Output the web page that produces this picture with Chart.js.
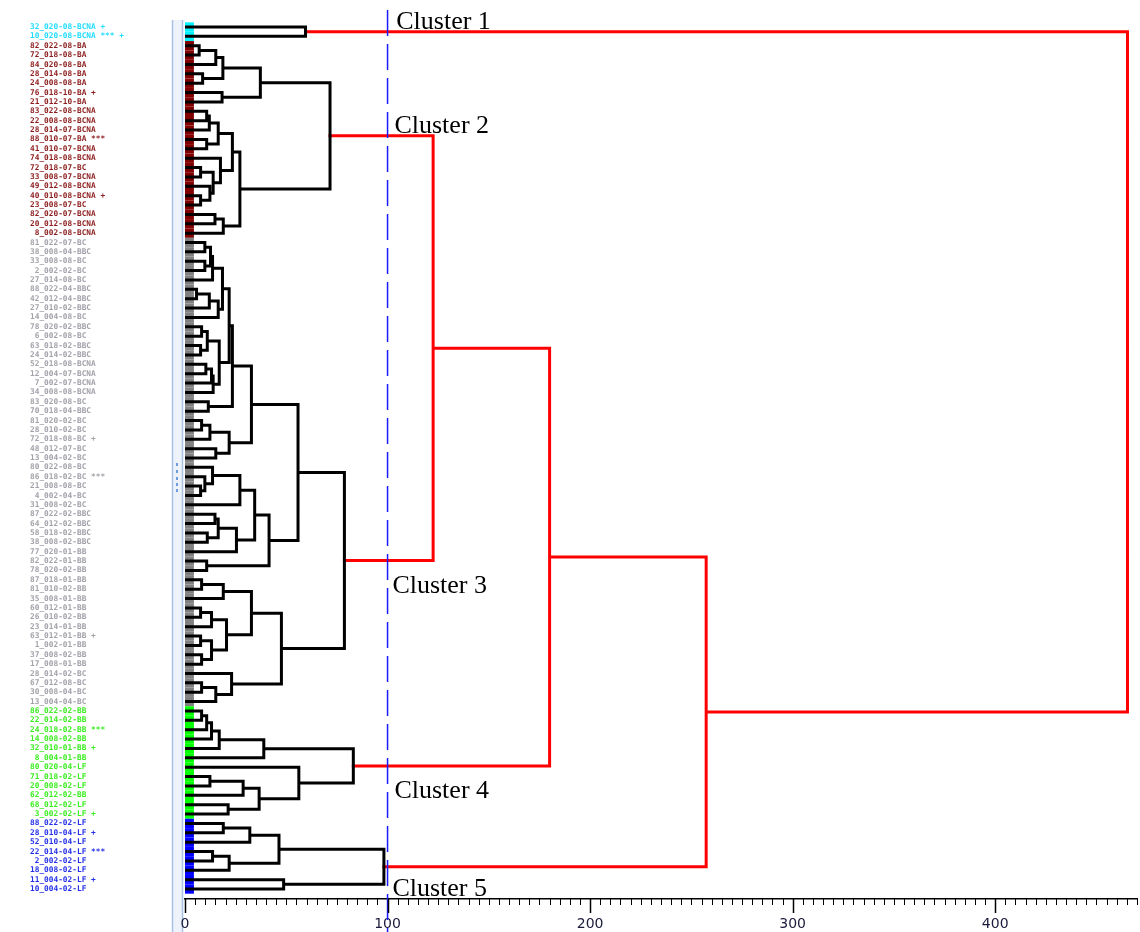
<!DOCTYPE html>
<html>
<head>
<meta charset="utf-8">
<title>Dendrogram</title>
<script src="https://cdn.jsdelivr.net/npm/chart.js@4.4.0/dist/chart.umd.min.js"></script>
<style>
  html, body { margin: 0; padding: 0; background: #fff; }
  canvas { display: block; }
</style>
</head>
<body>
<canvas id="dendro" width="1140" height="932"></canvas>
<script>
// leaf labels, top to bottom (single digit ids padded like the original listing)
var leafNames = [
  "32_020-08-BCNA +", "10_020-08-BCNA *** +",
  "82_022-08-BA", "72_018-08-BA", "84_020-08-BA", "28_014-08-BA", "24_008-08-BA",
  "76_018-10-BA +", "21_012-10-BA", "83_022-08-BCNA", "22_008-08-BCNA", "28_014-07-BCNA",
  "88_010-07-BA ***", "41_010-07-BCNA", "74_018-08-BCNA", "72_018-07-BC", "33_008-07-BCNA",
  "49_012-08-BCNA", "40_010-08-BCNA +", "23_008-07-BC", "82_020-07-BCNA", "20_012-08-BCNA",
  " 8_002-08-BCNA",
  "81_022-07-BC", "38_008-04-BBC", "33_008-08-BC", " 2_002-02-BC", "27_014-08-BC",
  "88_022-04-BBC", "42_012-04-BBC", "27_010-02-BBC", "14_004-08-BC", "78_020-02-BBC",
  " 6_002-08-BC", "63_018-02-BBC", "24_014-02-BBC", "52_018-08-BCNA", "12_004-07-BCNA",
  " 7_002-07-BCNA", "34_008-08-BCNA", "83_020-08-BC", "70_018-04-BBC", "81_020-02-BC",
  "28_010-02-BC", "72_018-08-BC +", "48_012-07-BC", "13_004-02-BC", "80_022-08-BC",
  "86_018-02-BC ***", "21_008-08-BC", " 4_002-04-BC", "31_008-02-BC", "87_022-02-BBC",
  "64_012-02-BBC", "58_018-02-BBC", "38_008-02-BBC", "77_020-01-BB", "82_022-01-BB",
  "78_020-02-BB", "87_018-01-BB", "81_010-02-BB", "35_008-01-BB", "60_012-01-BB",
  "26_010-02-BB", "23_014-01-BB", "63_012-01-BB +", " 1_002-01-BB", "37_008-02-BB",
  "17_008-01-BB", "28_014-02-BC", "67_012-08-BC", "30_008-04-BC", "13_004-04-BC",
  "86_022-02-BB", "22_014-02-BB", "24_018-02-BB ***", "14_008-02-BB", "32_010-01-BB +",
  " 8_004-01-BB", "80_020-04-LF", "71_018-02-LF", "20_008-02-LF", "62_012-02-BB",
  "68_012-02-LF", " 3_002-02-LF +",
  "88_022-02-LF", "28_010-04-LF +", "52_010-04-LF", "22_014-04-LF ***", " 2_002-02-LF",
  "18_008-02-LF", "11_004-02-LF +", "10_004-02-LF"
];

// how many consecutive leaves belong to each cluster
var clusterSizes = [2, 21, 50, 12, 8];
var stripColors = ["#00f2ff", "#800000", "#808080", "#00ff00", "#0000ff"];
var labelColors = ["#22dcff", "#8c1c1c", "#a2a2aa", "#3cee22", "#2430e8"];

// tree: leaf number, or [left, right, merge distance]
var cluster1 = [1, 2, 59.5];

var cluster2 = [
  [[[[3, 4, 7.0], 5, 15.2], [6, 7, 8.7], 18.7], [8, 9, 18.3], 37.2],
  [[[[[10, 11, 10.7], 12, 12.0], [13, 14, 10.7], 16.4],
    [15, [[16, 17, 7.7], [18, [19, 20, 7.7], 12.3], 13.9], 17.5], 23.4],
   [[21, 22, 14.8], 23, 18.9], 27.1],
  71.6
];

var cluster3 = [
  [[[[[[[[24, 25, 9.8], [26, 27, 9.8], 12.6], 28, 13.6],
       [[[29, 30, 5.7], 31, 12.0], 32, 16.4], 18.5],
      [[[33, 34, 8.2], [35, 36, 7.7], 11.0], [[[37, 38, 10.3], 39, 13.1], 40, 13.9], 16.9], 21.8],
     [41, 42, 11.5], 23.4],
    [[[43, 44, 8.2], 45, 12.3], [46, 47, 15.2], 21.8], 32.8],
   [[[[48, [49, [50, 51, 7.7], 9.8], 13.6], 52, 27.1],
     [[[53, 54, 14.8], [55, 56, 11.0], 16.4], 57, 25.4], 34.4],
    [58, 59, 10.7], 41.5], 55.8],
  [[[[60, 61, 8.2], 62, 18.9],
    [[[63, 64, 7.7], 65, 13.1], [[66, 67, 7.7], [68, 69, 8.2], 13.1], 20.5], 32.8],
   [70, [[71, 72, 8.2], 73, 15.2], 23.0], 47.6],
  78.7
];

var cluster4 = [
  [[[[[74, 75, 8.2], 76, 10.7], 77, 13.1], 78, 16.9], 79, 38.9],
  [80, [[[81, 82, 12.3], 83, 28.7], [84, 85, 21.3], 36.6], 56.2],
  83.1
];

var cluster5 = [
  [[[86, 87, 18.9], 88, 32.0], [[89, 90, 13.6], 91, 21.8], 46.4],
  [92, 93, 48.7],
  98.2
];

var tree = [cluster1, [[[cluster2, cluster3, 122.5], cluster4, 180.0], cluster5, 257.3], 465.3];

var cutLevel = 100;
var xTicksMajor = [0, 100, 200, 300, 400];

var clusterTitles = ["Cluster 1", "Cluster 2", "Cluster 3", "Cluster 4", "Cluster 5"];
var titleX = [104.3, 103.4, 102.4, 103.4, 102.4];
var titleY = [1.21, 12.31, 61.4, 83.3, 93.75];

// ---------------------------------------------------------------

var leafGroup = [];
clusterSizes.forEach(function (n, g) {
  for (var i = 0; i < n; i++) leafGroup.push(g);
});

var blackLinks = [];
var redLinks = [];

function walk(node) {
  if (typeof node === "number") return { y: node, h: 0 };
  var a = walk(node[0]);
  var b = walk(node[1]);
  var h = node[2];
  var out = h > cutLevel ? redLinks : blackLinks;
  out.push({ x: a.h, y: a.y }, { x: h, y: a.y }, { x: h, y: b.y }, { x: b.h, y: b.y }, { x: h, y: null });
  return { y: (a.y + b.y) / 2, h: h };
}
walk(tree);

var frame = {
  id: "frame",
  beforeDraw: function (chart) {
    var ctx = chart.ctx;
    ctx.save();
    ctx.fillStyle = "#fff";
    ctx.fillRect(0, 0, chart.width, chart.height);
    // side panel of the original window
    ctx.fillStyle = "#eef3fb";
    ctx.fillRect(172, 20, 11, chart.height - 20);
    ctx.strokeStyle = "#a8c2e6";
    ctx.lineWidth = 1.5;
    ctx.beginPath();
    ctx.moveTo(172.5, 20);
    ctx.lineTo(172.5, chart.height);
    ctx.moveTo(182.5, 20);
    ctx.lineTo(182.5, chart.height);
    ctx.stroke();
    ctx.fillStyle = "#6f9be0";
    var marks = [463, 470, 477, 483, 489];
    for (var m = 0; m < marks.length; m++) ctx.fillRect(176, marks[m], 2, 3);
    ctx.restore();
  },
  beforeDatasetsDraw: function (chart) {
    var ctx = chart.ctx;
    var sx = chart.scales.x;
    var sy = chart.scales.y;
    ctx.save();
    var x0 = sx.getPixelForValue(0);
    var x1 = sx.getPixelForValue(4.4);
    for (var i = 0; i < leafGroup.length; i++) {
      var top = sy.getPixelForValue(i + 0.5);
      var bot = sy.getPixelForValue(i + 1.5);
      ctx.fillStyle = stripColors[leafGroup[i]];
      ctx.fillRect(x0, top, x1 - x0, bot - top);
    }
    ctx.restore();
  },
  afterDraw: function (chart) {
    var ctx = chart.ctx;
    var sx = chart.scales.x;
    var sy = chart.scales.y;
    ctx.save();
    // axis ticks: long at the hundreds, short every 5
    ctx.strokeStyle = "#000";
    sx.ticks.forEach(function (t) {
      var major = xTicksMajor.indexOf(t.value) >= 0;
      var px = Math.round(sx.getPixelForValue(t.value)) + 0.5;
      ctx.lineWidth = major ? 1.5 : 1;
      ctx.beginPath();
      ctx.moveTo(px, sx.top);
      ctx.lineTo(px, sx.top + (major ? 14 : 6));
      ctx.stroke();
    });
    // cluster titles
    ctx.fillStyle = "#000";
    ctx.font = "26px 'Liberation Serif', 'Times New Roman', serif";
    ctx.textBaseline = "alphabetic";
    ctx.textAlign = "left";
    for (var i = 0; i < clusterTitles.length; i++) {
      ctx.fillText(clusterTitles[i], sx.getPixelForValue(titleX[i]), sy.getPixelForValue(titleY[i]));
    }
    ctx.restore();
  }
};

new Chart(document.getElementById("dendro"), {
  type: "line",
  data: {
    datasets: [
      {
        data: [{ x: cutLevel, y: -0.81 }, { x: cutLevel, y: 97.6 }],
        borderColor: "#1a1aff",
        borderWidth: 1.5,
        borderDash: [26, 8],
        pointRadius: 0,
        clip: false,
        order: -1
      },
      {
        data: blackLinks,
        borderColor: "#000",
        borderWidth: 3,
        borderJoinStyle: "miter",
        borderCapStyle: "square",
        pointRadius: 0,
        tension: 0,
        spanGaps: false,
        order: 0
      },
      {
        data: redLinks,
        borderColor: "#ff0000",
        borderWidth: 3,
        borderJoinStyle: "miter",
        borderCapStyle: "square",
        pointRadius: 0,
        tension: 0,
        spanGaps: false,
        order: 1
      }
    ]
  },
  options: {
    responsive: false,
    animation: false,
    events: [],
    layout: { padding: { left: 30, top: 10, right: 0, bottom: 0 } },
    plugins: { legend: { display: false }, tooltip: { enabled: false } },
    scales: {
      x: {
        type: "linear",
        min: 0,
        max: 470,
        border: { display: true, color: "#000", width: 1.5 },
        grid: {
          drawOnChartArea: false,
          tickLength: 14,
          tickColor: "rgba(0,0,0,0)"
        },
        afterFit: function (s) { s.height = 33; },
        ticks: {
          stepSize: 5,
          autoSkip: false,
          maxRotation: 0,
          minRotation: 0,
          padding: 3,
          color: "#1a1a3c",
          font: { family: "DejaVu Sans", size: 14 },
          callback: function (v) { return xTicksMajor.indexOf(v) >= 0 ? String(v) : ""; }
        }
      },
      y: {
        type: "linear",
        reverse: true,
        min: -0.8144,
        max: 94.067,
        border: { display: false },
        grid: { display: false },
        afterFit: function (s) { s.width = 155; },
        afterBuildTicks: function (s) {
          s.ticks = leafNames.map(function (name, i) { return { value: i + 1 }; });
        },
        ticks: {
          autoSkip: false,
          crossAlign: "far",
          padding: 0,
          font: { family: "DejaVu Sans Mono", size: 7.8, weight: "bold" },
          color: function (c) { return labelColors[leafGroup[c.index]]; },
          callback: function (v) { return leafNames[v - 1]; }
        }
      }
    }
  },
  plugins: [frame]
});
</script>
</body>
</html>
